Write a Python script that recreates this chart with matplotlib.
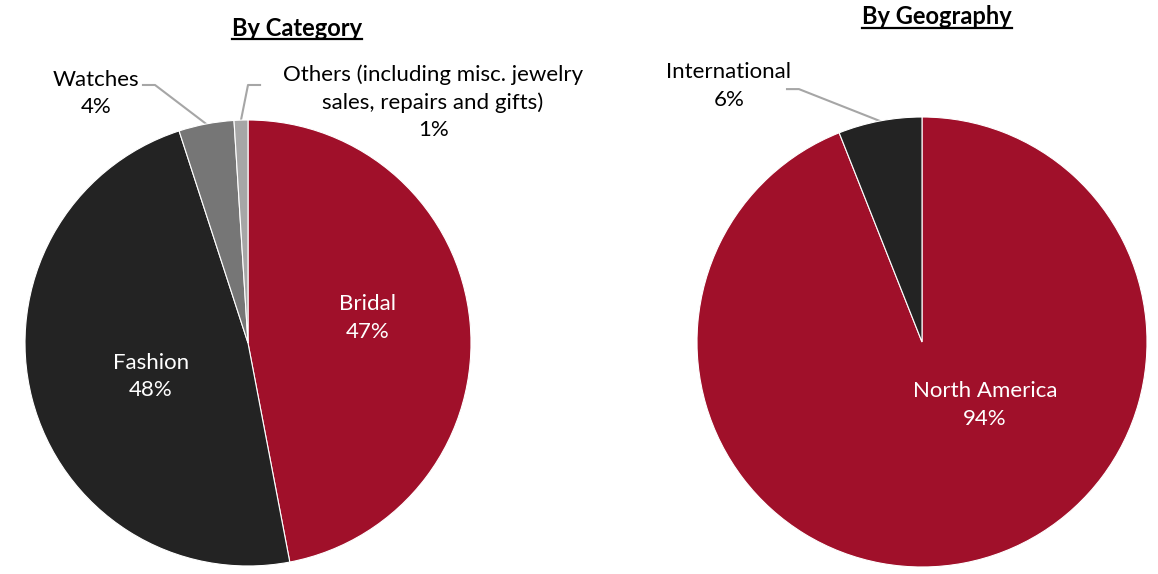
import matplotlib
matplotlib.use("Agg")
import matplotlib.pyplot as plt
from matplotlib.lines import Line2D
import numpy as np

plt.rcParams['font.family'] = ['Lato', 'DejaVu Sans']

# data
cat_labels = ['Bridal', 'Fashion', 'Watches', 'Others (including misc. jewelry\nsales, repairs and gifts)']
cat_values = [47, 48, 4, 1]
cat_colors = ['#A0102A', '#232323', '#767676', '#A6A6A6']

geo_labels = ['North America', 'International']
geo_values = [94, 6]
geo_colors = ['#A0102A', '#232323']

W, H = 1158, 574
fig = plt.figure(figsize=(W / 100, H / 100), dpi=100)


def px_axes(cx, cy, r):
    # axes placed by pixel centre and radius
    return fig.add_axes([(cx - r) / W, (H - cy - r) / H, 2 * r / W, 2 * r / H])


def mid_point(values, i):
    # point on the rim at the middle of wedge i (start 90, clockwise)
    tot = sum(values)
    frac = (sum(values[:i]) + values[i] / 2) / tot
    ang = np.deg2rad(90 - 360 * frac)
    return np.cos(ang), np.sin(ang)


def leader(ax, pts, values, i):
    ex, ey = mid_point(values, i)
    xs = [p[0] for p in pts] + [ex]
    ys = [p[1] for p in pts] + [ey]
    ax.plot(xs, ys, color='#A6A6A6', lw=1.5, clip_on=False, zorder=0)


fs = 16
ls = 1.45

# left pie
ax1 = px_axes(248, 343, 223)
ax1.pie(cat_values, colors=cat_colors, startangle=90, counterclock=False,
        radius=1, wedgeprops=dict(edgecolor='white', linewidth=0.8))
ax1.set_xlim(-1, 1)
ax1.set_ylim(-1, 1)
ax1.axis('off')

ax1.text(0.538, 0.112, f'{cat_labels[0]}\n{cat_values[0]}%', color='white',
         ha='center', va='center', fontsize=fs, linespacing=ls)
ax1.text(-0.435, -0.152, f'{cat_labels[1]}\n{cat_values[1]}%', color='white',
         ha='center', va='center', fontsize=fs, linespacing=ls)
ax1.text(-0.683, 1.120, f'{cat_labels[2]}\n{cat_values[2]}%', color='black',
         ha='center', va='center', fontsize=fs, linespacing=ls)
ax1.text(0.830, 1.081, f'{cat_labels[3]}\n{cat_values[3]}%', color='black',
         ha='center', va='center', fontsize=fs, linespacing=ls)
leader(ax1, [(-0.471, 1.157), (-0.417, 1.157)], cat_values, 2)
leader(ax1, [(0.054, 1.157), (0.0, 1.157)], cat_values, 3)

# right pie
ax2 = px_axes(922, 342, 225)
ax2.pie(geo_values, colors=geo_colors, startangle=90, counterclock=False,
        radius=1, wedgeprops=dict(edgecolor='white', linewidth=0.8))
ax2.set_xlim(-1, 1)
ax2.set_ylim(-1, 1)
ax2.axis('off')

ax2.text(0.28, -0.28, f'{geo_labels[0]}\n{geo_values[0]}%', color='white',
         ha='center', va='center', fontsize=fs, linespacing=ls)
ax2.text(-0.858, 1.138, f'{geo_labels[1]}\n{geo_values[1]}%', color='black',
         ha='center', va='center', fontsize=fs, linespacing=ls)
leader(ax2, [(-0.600, 1.124), (-0.547, 1.124)], geo_values, 1)

# underlined titles
titles = [fig.text(297 / W, 1 - 28 / H, 'By Category', ha='center', va='center',
                   fontsize=17, fontweight='bold'),
          fig.text(937 / W, 1 - 17 / H, 'By Geography', ha='center', va='center',
                   fontsize=17, fontweight='bold')]
fig.canvas.draw()
r = fig.canvas.get_renderer()
for t in titles:
    bb = t.get_window_extent(r)
    y = (bb.y0 + 1) / H
    fig.add_artist(Line2D([bb.x0 / W, bb.x1 / W], [y, y], color='black', lw=1.6))

fig.savefig('out.png', dpi=100)
